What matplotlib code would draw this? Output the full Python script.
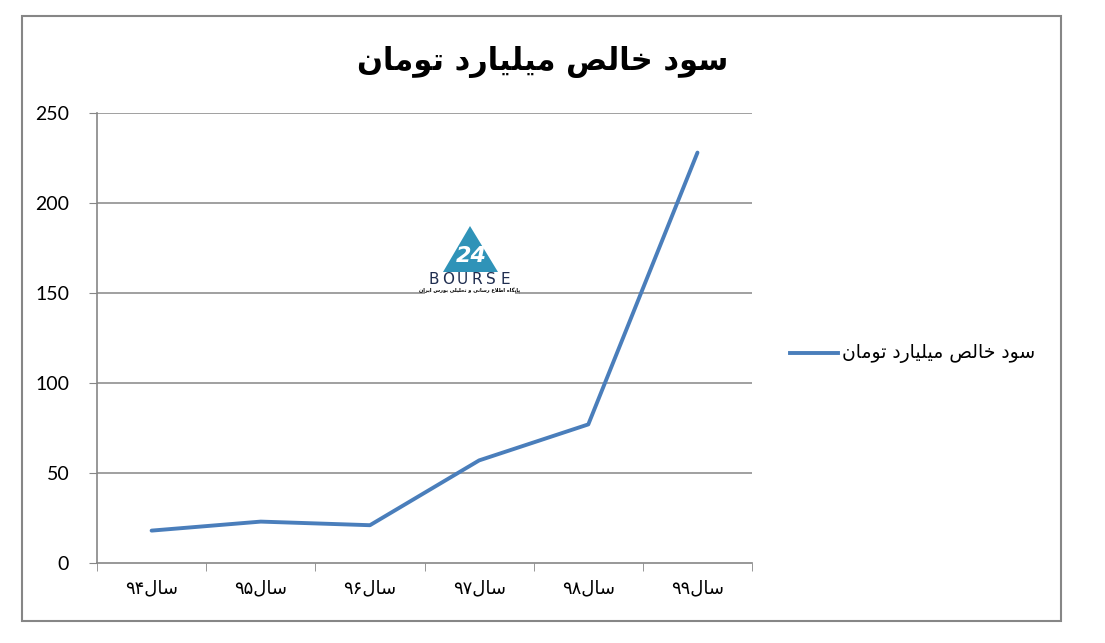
import matplotlib
matplotlib.use('Agg')
import matplotlib.pyplot as plt
from matplotlib.patches import Rectangle, Polygon

# داده ها
categories = ['سال۹۴', 'سال۹۵', 'سال۹۶', 'سال۹۷', 'سال۹۸', 'سال۹۹']
values = [18, 23, 21, 57, 77, 228]
series_name = 'سود خالص میلیارد تومان'
title_text = 'سود خالص میلیارد تومان'
y_ticks = [0, 50, 100, 150, 200, 250]
logo_caption = 'پایگاه اطلاع رسانی و تحلیلی بورس ایران'

# اشکال حروف (جدا، پایانی، آغازی، میانی)
FORMS = {
    'ا': ('\uFE8D', '\uFE8E'),
    'د': ('\uFEA9', '\uFEAA'),
    'ر': ('\uFEAD', '\uFEAE'),
    'و': ('\uFEED', '\uFEEE'),
    'ب': ('\uFE8F', '\uFE90', '\uFE91', '\uFE92'),
    'پ': ('\uFB56', '\uFB57', '\uFB58', '\uFB59'),
    'ت': ('\uFE95', '\uFE96', '\uFE97', '\uFE98'),
    'ح': ('\uFEA1', '\uFEA2', '\uFEA3', '\uFEA4'),
    'خ': ('\uFEA5', '\uFEA6', '\uFEA7', '\uFEA8'),
    'س': ('\uFEB1', '\uFEB2', '\uFEB3', '\uFEB4'),
    'ص': ('\uFEB9', '\uFEBA', '\uFEBB', '\uFEBC'),
    'ط': ('\uFEC1', '\uFEC2', '\uFEC3', '\uFEC4'),
    'ع': ('\uFEC9', '\uFECA', '\uFECB', '\uFECC'),
    'گ': ('\uFB92', '\uFB93', '\uFB94', '\uFB95'),
    'ل': ('\uFEDD', '\uFEDE', '\uFEDF', '\uFEE0'),
    'م': ('\uFEE1', '\uFEE2', '\uFEE3', '\uFEE4'),
    'ن': ('\uFEE5', '\uFEE6', '\uFEE7', '\uFEE8'),
    'ه': ('\uFEE9', '\uFEEA', '\uFEEB', '\uFEEC'),
    'ی': ('\uFEEF', '\uFEF0', '\uFEF3', '\uFEF4'),
}


def shape(s):
    # لام الف
    out = []
    i = 0
    while i < len(s):
        c = s[i]
        prev = s[i - 1] if i > 0 else ''
        jp = prev in FORMS and len(FORMS[prev]) == 4
        if c == 'ل' and i + 1 < len(s) and s[i + 1] == 'ا':
            out.append('\uFEFC' if jp else '\uFEFB')
            i += 2
            continue
        if c not in FORMS:
            out.append(c)
            i += 1
            continue
        nxt = s[i + 1] if i + 1 < len(s) else ''
        jn = len(FORMS[c]) == 4 and nxt in FORMS
        f = FORMS[c]
        if jp and jn:
            out.append(f[3])
        elif jn:
            out.append(f[2])
        elif jp:
            out.append(f[1])
        else:
            out.append(f[0])
        i += 1
    return ''.join(out)


def rtl(s):
    # جدا کردن ارقام از حروف
    runs = []
    for c in s:
        d = c.isdigit()
        if runs and runs[-1][0] == d:
            runs[-1][1] += c
        else:
            runs.append([d, c])
    vis = []
    for d, t in reversed(runs):
        vis.append(t if d else shape(t)[::-1])
    return ''.join(vis)


plt.rcParams['font.family'] = ['Lato', 'DejaVu Sans']

fig = plt.figure(figsize=(11.05, 6.43), dpi=100)
fig.patches.append(Rectangle((0.0199, 0.0342), 0.9403, 0.9409, transform=fig.transFigure,
                             fill=False, edgecolor='#868686', linewidth=1.5))

ax = fig.add_axes([0.0878, 0.1244, 0.5928, 0.6999])
x = list(range(len(categories)))
ax.plot(x, values, color='#4a7ebb', linewidth=2.8, solid_capstyle='round', zorder=3)

ax.set_xlim(-0.5, len(categories) - 0.5)
ax.set_ylim(0, 250)
ax.set_yticks(y_ticks)
ax.set_yticklabels([str(v) for v in y_ticks], fontsize=14)
ax.set_xticks(x)
ax.set_xticklabels([rtl(c) for c in categories], fontsize=13, family=['DejaVu Sans'])
ax.set_xticks([i - 0.5 for i in range(len(categories) + 1)], minor=True)

ax.tick_params(axis='x', which='major', length=0, pad=12)
ax.tick_params(axis='x', which='minor', length=6, color='#868686', direction='out')
ax.tick_params(axis='y', length=6, color='#868686', pad=14)

for y in y_ticks[1:]:
    ax.axhline(y, color='#868686', linewidth=1.1, zorder=0)

for side in ['top', 'right']:
    ax.spines[side].set_visible(False)
for side in ['left', 'bottom']:
    ax.spines[side].set_color('#868686')
    ax.spines[side].set_linewidth(1.2)

fig.text(0.491, 0.903, rtl(title_text), fontsize=22, fontweight='bold',
         family=['DejaVu Sans'], ha='center', va='center')

# راهنما
fig.add_artist(plt.Line2D([0.715, 0.758], [0.451, 0.451], color='#4a7ebb', linewidth=2.8,
                          transform=fig.transFigure))
fig.text(0.762, 0.451, rtl(series_name), fontsize=13.5, family=['DejaVu Sans'],
         ha='left', va='center')

# لوگو
fig.patches.append(Rectangle((425 / 1105, 1 - 298 / 643), 90 / 1105, 88 / 643,
                             transform=fig.transFigure, facecolor='white', edgecolor='none'))
fig.patches.append(Polygon([(443 / 1105, 1 - 272 / 643), (498 / 1105, 1 - 272 / 643),
                            (470 / 1105, 1 - 226 / 643)], closed=True,
                           transform=fig.transFigure, facecolor='#2f93b8', edgecolor='none'))
fig.text(471 / 1105, 1 - 256 / 643, '24', fontsize=16, fontweight='bold', color='white',
         ha='center', va='center', family=['DejaVu Sans'], style='italic')
for k, ch in enumerate('BOURSE'):
    fig.text((434 + k * 14.2) / 1105, 1 - 280 / 643, ch, fontsize=11, color='#1f2d4f',
             ha='center', va='center', family=['DejaVu Sans'])
fig.text(470 / 1105, 1 - 291 / 643, rtl(logo_caption), fontsize=3.6, fontweight='bold',
         color='black', ha='center', va='center', family=['DejaVu Sans'])

fig.savefig('out.png', dpi=100)
